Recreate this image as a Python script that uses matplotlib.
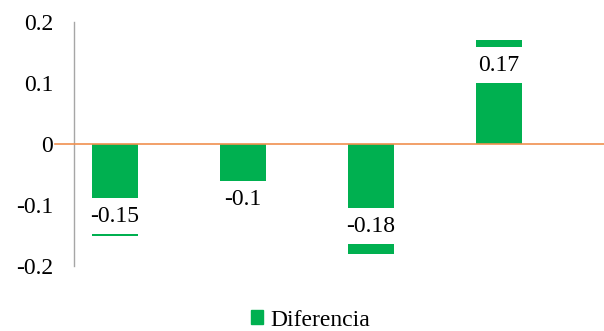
import matplotlib
matplotlib.use("Agg")
import matplotlib.pyplot as plt
from matplotlib.patches import Patch, Rectangle

categories = ["A", "B", "C", "D"]
diferencia = [-0.15, -0.10, -0.18, 0.17]
y_ticks = [-0.2, -0.1, 0, 0.1, 0.2]
y_tick_labels = ["-0.2", "-0.1", "0", "0.1", "0.2"]
series_name = "Diferencia"

# vertical shift of each value label towards the zero line, in points
label_shift = [14, 4, 20, 18]

GREEN = "#00B050"
ORANGE = "#F0904F"
BAR_W = 0.36
PLATE_H_PT = 26  # height of the white plate behind each value label

plt.rcParams["font.family"] = ["Liberation Serif", "DejaVu Serif"]

fig = plt.figure(figsize=(6.04, 3.31), dpi=100)
ax = fig.add_axes([74 / 604, 65 / 331, 530 / 604, 244 / 331])

x = list(range(len(categories)))
ax.bar(x, diferencia, width=BAR_W, color=GREEN, zorder=2)

ax.set_xlim(-0.32, 3.82)
ax.set_ylim(-0.2, 0.2)
ax.set_yticks(y_ticks)
ax.set_yticklabels(y_tick_labels, fontsize=17)
ax.tick_params(axis="y", length=0, pad=15)
ax.set_xticks([])

for s in ["top", "right", "bottom"]:
    ax.spines[s].set_visible(False)
ax.spines["left"].set_color("#A6A6A6")
ax.spines["left"].set_linewidth(1.0)

# zero line, reaching a little past the vertical axis
ax.plot([-0.47, 3.82], [0, 0], color=ORANGE, lw=1.2, zorder=3, clip_on=False)

# value labels on white plates as wide as the bars
px_per_pt = fig.dpi / 72
for xi, v, sh in zip(x, diferencia, label_shift):
    off = -sh if v > 0 else sh
    cx0, cy = ax.transData.transform((xi - BAR_W / 2 - 0.01, v))
    cx1, _ = ax.transData.transform((xi + BAR_W / 2 + 0.01, v))
    cy += off * px_per_pt
    hh = PLATE_H_PT * px_per_pt / 2
    dx0, dy0 = ax.transData.inverted().transform((cx0, cy - hh))
    dx1, dy1 = ax.transData.inverted().transform((cx1, cy + hh))
    ax.add_patch(Rectangle((dx0, dy0), dx1 - dx0, dy1 - dy0, fc="white",
                           ec="none", zorder=3.5))
    ax.annotate(f"{v:g}", xy=(xi, v), xytext=(0, off), textcoords="offset points",
                ha="center", va="center", fontsize=17, color="#000000", zorder=4)

fig.legend(handles=[Patch(color=GREEN, label=series_name)],
           loc="center", bbox_to_anchor=(0.514, 0.033), frameon=False,
           fontsize=17, handlelength=0.5, handleheight=0.5, handletextpad=0.3)

fig.savefig("out.png", dpi=100)
